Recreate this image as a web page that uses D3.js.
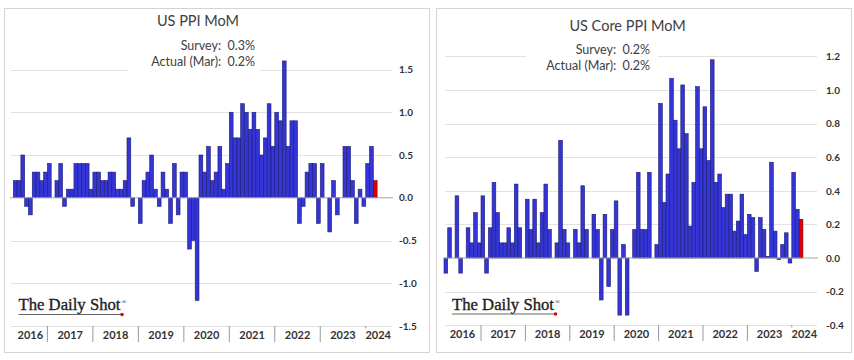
<!DOCTYPE html>
<html><head><meta charset="utf-8">
<script src="https://cdn.jsdelivr.net/npm/d3@7"></script>
<style>body{margin:0;background:#fff}svg{display:block}</style>
</head><body>
<svg id="c" width="854" height="360"></svg>
<script>
// ---- data ----
const ppiStart = "2016-04-01";       // first month shown, left chart
const coreStart = "2016-03-01";      // first month shown, right chart
const ppiValues = [
  0.2,0.2,0.5,-0.1,-0.2,0.3,0.3,0.2,0.3,
  0.4,0.0,0.2,0.4,-0.1,0.1,0.1,0.4,0.4,0.4,0.4,0.1,
  0.3,0.3,0.2,0.2,0.3,0.3,0.1,0.1,0.2,0.7,-0.1,0.0,
  -0.3,0.2,0.3,0.5,0.1,-0.1,0.3,0.1,-0.3,0.4,-0.2,0.3,
  0.3,-0.6,-0.5,-1.2,0.5,0.3,0.6,0.2,0.3,0.6,0.1,0.4,
  1.0,0.7,0.7,1.1,1.0,0.8,1.0,0.8,0.5,0.7,1.1,0.6,
  1.0,0.9,1.6,0.6,0.9,0.9,-0.3,-0.1,0.3,0.4,0.4,-0.3,
  0.4,0.0,-0.4,0.2,-0.2,0.0,0.6,0.6,0.2,-0.3,0.1,-0.1,
  0.4,0.6,0.2
];
const corePpiValues = [
  -0.09,0.18,0.0,0.37,-0.09,0.0,0.18,0.09,0.27,0.09,
  0.37,-0.09,0.18,0.45,0.27,0.09,0.09,0.18,0.09,0.44,0.18,0.0,
  0.35,0.17,0.35,0.09,0.27,0.44,0.17,0.0,0.09,0.70,0.17,0.09,
  0.0,0.17,0.09,0.43,0.17,0.0,0.26,0.17,-0.25,0.26,-0.17,0.17,
  0.34,-0.34,0.08,-0.34,0.0,0.17,0.51,0.17,0.17,0.51,0.0,0.08,
  0.92,0.33,0.50,1.07,0.82,0.65,1.03,0.74,0.19,0.45,1.02,0.65,
  0.90,0.58,1.18,0.45,0.50,0.30,0.38,0.38,0.16,0.22,0.38,0.14,
  0.26,0.24,-0.08,0.24,0.17,0.01,0.57,0.16,-0.01,0.08,0.15,-0.03,
  0.51,0.29,0.23
];
const years = ["2016","2017","2018","2019","2020","2021","2022","2023","2024"];
const ppiTicks = [-1.5,-1.0,-0.5,0.0,0.5,1.0,1.5];
const coreTicks = [-0.4,-0.2,0.0,0.2,0.4,0.6,0.8,1.0,1.2];
const titles = ["US PPI MoM","US Core PPI MoM"];
const ppiNotes = ["Survey:  0.3%","Actual (Mar):  0.2%"];
const coreNotes = ["Survey:  0.2%","Actual (Mar):  0.2%"];
const logoText = "The Daily Shot";

// ---- drawing ----
const svg = d3.select("#c");
const fmt = d3.formatLocale({decimal:".",thousands:",",grouping:[3],currency:["",""],minus:"-"}).format(".1f");
const TXT = "#404040";

function drawPanel(cfg){
  const g = svg.append("g");
  g.append("rect").attr("x",cfg.box[0]+0.5).attr("y",cfg.box[1]+0.5)
    .attr("width",cfg.box[2]-cfg.box[0]).attr("height",cfg.box[3]-cfg.box[1])
    .attr("fill","#fff").attr("stroke","#d4d4d4").attr("stroke-width",1);

  const start = new Date(cfg.start + "T00:00:00");
  const months = d3.timeMonth.range(start, d3.timeMonth.offset(start, cfg.values.length));
  const x = d3.scaleBand().domain(months).range(cfg.xRange).padding(0);
  const y = d3.scaleLinear().domain(cfg.domain).range(cfg.yRange);

  // gridlines
  g.append("g").selectAll("line").data(cfg.ticks.filter(t=>t!==0)).join("line")
    .attr("x1",cfg.gridX[0]).attr("x2",cfg.gridX[1])
    .attr("y1",d=>Math.round(y(d))+0.5).attr("y2",d=>Math.round(y(d))+0.5)
    .attr("stroke","#e2e2e2").attr("stroke-width",1);

  // mask behind notes
  g.append("rect").attr("x",cfg.mask[0]).attr("y",cfg.mask[1]).attr("width",cfg.mask[2]).attr("height",cfg.mask[3]).attr("fill","#fff");

  // bars
  const data = cfg.values.map((v,i)=>({m:months[i],v,last:i===cfg.values.length-1}));
  g.append("g").selectAll("rect").data(data).join("rect")
    .attr("x",d=>x(d.m)).attr("width",x.bandwidth())
    .attr("y",d=>Math.min(y(d.v),y(0))).attr("height",d=>Math.abs(y(d.v)-y(0)))
    .attr("fill",d=>d.last?"#e00000":"#3535d6")
    .attr("stroke",d=>d.last?"#700000":"#1c1c74").attr("stroke-width",0.6);

  // zero line
  g.append("line").attr("x1",cfg.gridX[0]-1).attr("x2",cfg.gridX[1]+1)
    .attr("y1",y(0)).attr("y2",y(0)).attr("stroke","#a6a6a6").attr("stroke-width",1.2);

  // right axis labels
  const ax = d3.axisRight(y).tickValues(cfg.ticks).tickSize(0).tickPadding(0).tickFormat(fmt);
  const axg = g.append("g").attr("transform",`translate(${cfg.axisX},0)`).call(ax);
  axg.select(".domain").remove();
  axg.selectAll("text").attr("fill","#333").attr("font-family","Lato, 'Open Sans', sans-serif")
    .attr("font-size",10).attr("font-weight","bold");

  // year separators and labels
  years.forEach((yr,i)=>{
    const ms = months.filter(m=>m.getFullYear()===+yr);
    const x0 = x(ms[0]), x1 = x(ms[ms.length-1]) + x.bandwidth();
    if(i>0){
      const tall = i < years.length-1;
      g.append("line").attr("x1",x0).attr("x2",x0)
        .attr("y1",cfg.sepY[0]).attr("y2",tall?cfg.sepY[1]:cfg.sepY[0]+2.5)
        .attr("stroke","#9a9a9a").attr("stroke-width",1);
    }
    const cx = Math.max((x0+x1)/2, x0 + 12.5);
    g.append("text").attr("x",cx).attr("y",cfg.yearY).attr("text-anchor","middle")
      .attr("fill","#333").attr("font-family","Lato, sans-serif").attr("font-size",11)
      .attr("font-weight","bold").text(yr);
  });

  // title & notes
  g.append("text").attr("x",cfg.titleX).attr("y",cfg.titleY).attr("text-anchor","middle")
    .attr("fill",TXT).attr("font-family","Lato, sans-serif").attr("font-size",14.5).text(cfg.title);
  cfg.notes.forEach((t,i)=>{
    g.append("text").attr("x",cfg.noteX).attr("y",cfg.noteY[i]).attr("text-anchor","end")
      .attr("fill",TXT).attr("font-family","Lato, sans-serif").attr("font-size",12.5)
      .style("white-space","pre").text(t);
  });

  // logo
  const L = cfg.logo;
  const lg = g.append("g");
  lg.append("text").attr("x",L[0]).attr("y",L[1]).attr("fill","#222")
    .attr("stroke","#222").attr("stroke-width",0.35)
    .attr("font-family","'Liberation Serif', 'DejaVu Serif', serif").attr("font-size",17)
    .attr("textLength",L[2]).attr("lengthAdjust","spacingAndGlyphs").text(logoText);
  lg.append("text").attr("x",L[0]+L[2]+1).attr("y",L[1]-6).attr("fill","#222")
    .attr("font-family","'Liberation Serif', serif").attr("font-size",6.5).text("®");
  lg.append("line").attr("x1",L[0]).attr("x2",L[0]+L[2]+1).attr("y1",L[1]+4.5).attr("y2",L[1]+4.5)
    .attr("stroke","#555").attr("stroke-width",0.9);
  lg.append("circle").attr("cx",L[0]+L[2]+1.5).attr("cy",L[1]+4.5).attr("r",1.8).attr("fill","#e00000");
}

drawPanel({
  box:[4,8,429,352], start:ppiStart, values:ppiValues, ticks:ppiTicks,
  xRange:[13.3,377.1], domain:[-1.5,1.5], yRange:[326,69.5], gridX:[11,392],
  axisX:399, mask:[128,36,132,36], sepY:[326,342], yearY:338.5,
  title:titles[0], titleX:198, titleY:26, notes:ppiNotes, noteX:255, noteY:[49.5,66],
  logo:[18.5,310,102]
});
drawPanel({
  box:[436,8,851,352], start:coreStart, values:corePpiValues, ticks:coreTicks,
  xRange:[444,802.9], domain:[-0.4,1.2], yRange:[325.2,56.4], gridX:[445,817],
  axisX:826, mask:[526,40,132,34], sepY:[325,341], yearY:337.5,
  title:titles[1], titleX:627.5, titleY:30.5, notes:coreNotes, noteX:650, noteY:[53.5,69.5],
  logo:[452,309.5,102]
});
</script>
</body></html>
